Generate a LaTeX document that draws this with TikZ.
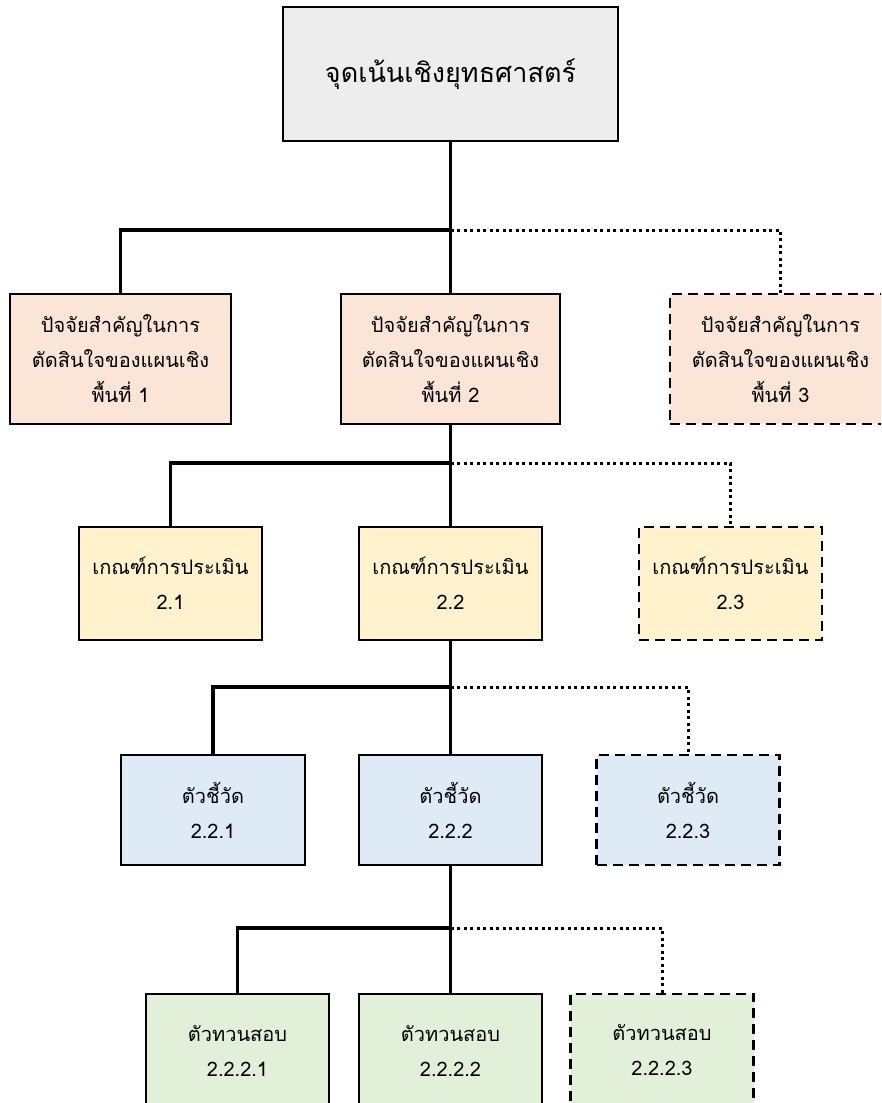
\documentclass[tikz,border=0pt]{standalone}
\usepackage{fontspec}
\newfontfamily\thaifont[Script=Thai]{Loma}
\usetikzlibrary{positioning}

\definecolor{rootgray}{HTML}{EDEDED}
\definecolor{peach}{HTML}{FBE5D6}
\definecolor{cream}{HTML}{FFF2CC}
\definecolor{paleblue}{HTML}{DEEBF7}
\definecolor{palegreen}{HTML}{E2F0D9}

\tikzset{
  box/.style={draw, line width=2.8pt, align=center, inner sep=0pt,
    font=\thaifont\fontsize{20}{35}\selectfont},
  optbox/.style={box, dash pattern=on 10pt off 6pt},
  rootbox/.style={box, fill=rootgray, minimum width=335pt, minimum height=134pt,
    font=\thaifont\fontsize{27}{35}\selectfont},
  link/.style={line width=3.2pt},
  optlink/.style={line width=3pt, dash pattern=on 3pt off 3.5pt}
}

\begin{document}
\begin{tikzpicture}[x=1pt,y=-1pt]
      \useasboundingbox (0,0) rectangle (881,1103);
      \clip (0,0) rectangle (881,1103);

      % top
      \node[rootbox] (root) at (450.5,74) {จุดเน้นเชิงยุทธศาสตร์};

      % level 1
      \node[box, fill=peach, minimum width=221pt, minimum height=130pt]
        (area1) at (120.5,359) {ปัจจัยสำคัญในการ\\ตัดสินใจของแผนเชิง\\พื้นที่ 1};
      \node[box, fill=peach, minimum width=219pt, minimum height=130pt]
        (area2) at (450.5,359) {ปัจจัยสำคัญในการ\\ตัดสินใจของแผนเชิง\\พื้นที่ 2};
      \node[optbox, fill=peach, minimum width=221pt, minimum height=130pt]
        (area3) at (780.5,359) {ปัจจัยสำคัญในการ\\ตัดสินใจของแผนเชิง\\พื้นที่ 3};

      % level 2
      \node[box, fill=cream, minimum width=183pt, minimum height=113pt]
        (crit1) at (170.5,583.5) {เกณฑ์การประเมิน\\2.1};
      \node[box, fill=cream, minimum width=183pt, minimum height=113pt]
        (crit2) at (450.5,583.5) {เกณฑ์การประเมิน\\2.2};
      \node[optbox, fill=cream, minimum width=183pt, minimum height=113pt]
        (crit3) at (730.5,583.5) {เกณฑ์การประเมิน\\2.3};

      % level 3
      \node[box, fill=paleblue, minimum width=184pt, minimum height=110pt]
        (ind1) at (213,810) {ตัวชี้วัด\\2.2.1};
      \node[box, fill=paleblue, minimum width=183pt, minimum height=110pt]
        (ind2) at (450.5,810) {ตัวชี้วัด\\2.2.2};
      \node[optbox, fill=paleblue, minimum width=183pt, minimum height=110pt]
        (ind3) at (688,810) {ตัวชี้วัด\\2.2.3};

      % level 4
      \node[box, fill=palegreen, minimum width=183pt, minimum height=113pt]
        (test1) at (237.5,1050.5) {ตัวทวนสอบ\\2.2.2.1};
      \node[box, fill=palegreen, minimum width=183pt, minimum height=113pt]
        (test2) at (450.5,1050.5) {ตัวทวนสอบ\\2.2.2.2};
      \node[optbox, fill=palegreen, minimum width=183pt, minimum height=113pt]
        (test3) at (662,1050.5) {ตัวทวนสอบ\\2.2.2.3};

      % junctions
      \coordinate (j1) at (450.5,230);
      \coordinate (j2) at (450.5,463);
      \coordinate (j3) at (450.5,687);
      \coordinate (j4) at (450.5,928);

      \draw[link] (root.south) -- (j1);
      \draw[link] (area1.north) |- (j1) -- (area2.north);
      \draw[optlink] (j1) -| (area3.north);

      \draw[link] (area2.south) -- (j2);
      \draw[link] (crit1.north) |- (j2) -- (crit2.north);
      \draw[optlink] (j2) -| (crit3.north);

      \draw[link] (crit2.south) -- (j3);
      \draw[link] (ind1.north) |- (j3) -- (ind2.north);
      \draw[optlink] (j3) -| (ind3.north);

      \draw[link] (ind2.south) -- (j4);
      \draw[link] (test1.north) |- (j4) -- (test2.north);
      \draw[optlink] (j4) -| (test3.north);

    \end{tikzpicture}
\end{document}
